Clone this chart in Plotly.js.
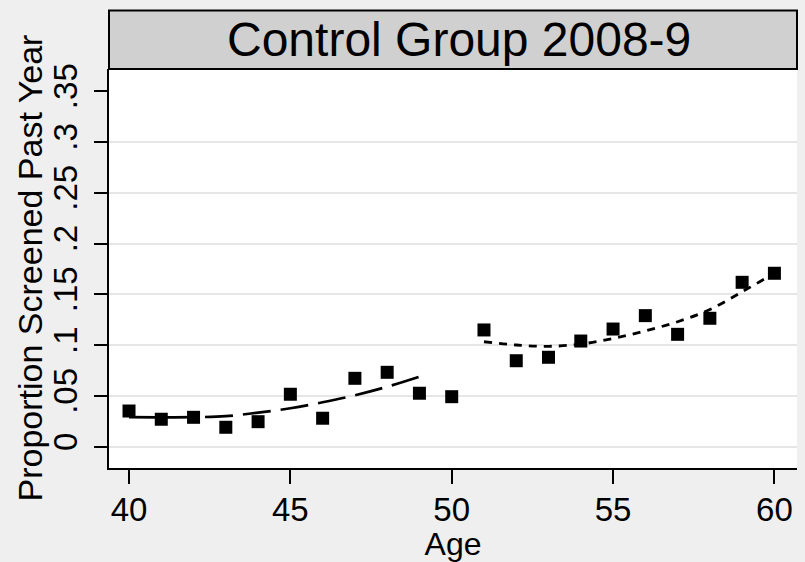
<!DOCTYPE html>
<html>
<head>
<meta charset="utf-8">
<script src="https://cdn.plot.ly/plotly-3.0.1.min.js"></script>
<style>html,body{margin:0;padding:0;background:#efefef;}#chart{width:805px;height:562px;}</style>
</head>
<body>
<div id="chart"></div>
<script>
// Observed proportions by age
const ages = [40,41,42,43,44,45,46,47,48,49,50,51,52,53,54,55,56,57,58,59,60];
const proportion = [0.0351,0.0270,0.0289,0.0191,0.0246,0.0516,0.0280,0.0673,0.0732,0.0526,0.0492,
                    0.1149,0.0846,0.0880,0.1040,0.1158,0.1290,0.1106,0.1264,0.1618,0.1707];
// Fitted curve below age 50
const fitAgesLow = [40,41,42,43,44,45,46,47,48,49];
const fitLow = [0.0290,0.0289,0.0290,0.0300,0.0335,0.0378,0.0437,0.0506,0.0590,0.0689];
// Fitted curve above age 50
const fitAgesHigh = [51,52,53,54,55,56,57,58,59,60];
const fitHigh = [0.1033,0.1001,0.0988,0.1010,0.1065,0.1140,0.1230,0.1350,0.1525,0.1707];
// Tick labels
const xTicks = [40,45,50,55,60];
const yTicks = [0,0.05,0.10,0.15,0.20,0.25,0.30,0.35];
const yTickText = ['0','.05','.1','.15','.2','.25','.3','.35'];
const yGrid = [0,0.05,0.10,0.15,0.20,0.25,0.30];

const FONT = '"Liberation Sans", Arial, Helvetica, sans-serif';
const yRange = [-0.021, 0.3718];

const traces = [
  {x: [], y: [], yaxis: 'y2', xaxis: 'x', showlegend: false, hoverinfo: 'skip', type: 'scatter'},
  {x: fitAgesLow, y: fitLow, type: 'scatter', mode: 'lines',
   line: {color: 'black', width: 2.7, dash: '28px,10px', shape: 'spline'}, showlegend: false},
  {x: fitAgesHigh, y: fitHigh, type: 'scatter', mode: 'lines',
   line: {color: 'black', width: 2.8, dash: '8px,7px', shape: 'spline'}, showlegend: false},
  {x: ages, y: proportion, type: 'scatter', mode: 'markers',
   marker: {symbol: 'square', size: 13, color: 'black'}, showlegend: false}
];

const plotW = 805 - 109 - 8;
const plotH = 562 - 69 - 94;
const layout = {
  width: 805, height: 562,
  paper_bgcolor: '#efefef', plot_bgcolor: 'white',
  margin: {l: 109, r: 8, t: 69, b: 94},
  font: {family: FONT, color: 'black'},
  showlegend: false,
  xaxis: {
    range: [39.38, 60.70], tickmode: 'array', tickvals: xTicks,
    ticks: 'outside', ticklen: 14, tickwidth: 2, tickcolor: 'black',
    showline: true, linecolor: 'black', linewidth: 2, mirror: false,
    showgrid: false, zeroline: false, ticklabelstandoff: -3,
    tickfont: {size: 33, family: FONT, color: 'black'},
    title: {text: 'Age', font: {size: 32, family: FONT, color: 'black'}, standoff: 3}
  },
  yaxis: {
    range: yRange, tickmode: 'array', tickvals: yTicks, ticktext: yTickText,
    tickangle: -90, ticklabelstandoff: 4,
    ticks: 'outside', ticklen: 13, tickwidth: 2, tickcolor: 'black',
    showline: true, linecolor: 'black', linewidth: 2,
    showgrid: false, zeroline: false,
    tickfont: {size: 33, family: FONT, color: 'black'}
  },
  yaxis2: {
    overlaying: 'y', range: yRange, tickmode: 'array', tickvals: yGrid,
    showgrid: true, gridcolor: '#e6e6e6', gridwidth: 2,
    showticklabels: false, ticks: '', showline: false, zeroline: false
  },
  shapes: [{
    type: 'rect', xref: 'paper', yref: 'paper', x0: 0, x1: 1, y0: 1, y1: 1 + 58.5 / plotH,
    fillcolor: '#d0d0d0', line: {color: 'black', width: 2}, layer: 'above'
  }],
  annotations: [{
    text: 'Control Group 2008-9', xref: 'paper', yref: 'paper', x: 0.5, y: 1 + 29.5 / plotH,
    xanchor: 'center', yanchor: 'middle', showarrow: false, xshift: 6,
    font: {size: 48, family: FONT, color: 'black'}
  }, {
    text: 'Proportion Screened Past Year', xref: 'paper', yref: 'paper',
    x: (29 - 109) / plotW, y: 0.5, textangle: -90,
    xanchor: 'center', yanchor: 'middle', showarrow: false,
    font: {size: 34, family: FONT, color: 'black'}
  }]
};

Plotly.newPlot('chart', traces, layout, {displayModeBar: false, staticPlot: true});
</script>
</body>
</html>
